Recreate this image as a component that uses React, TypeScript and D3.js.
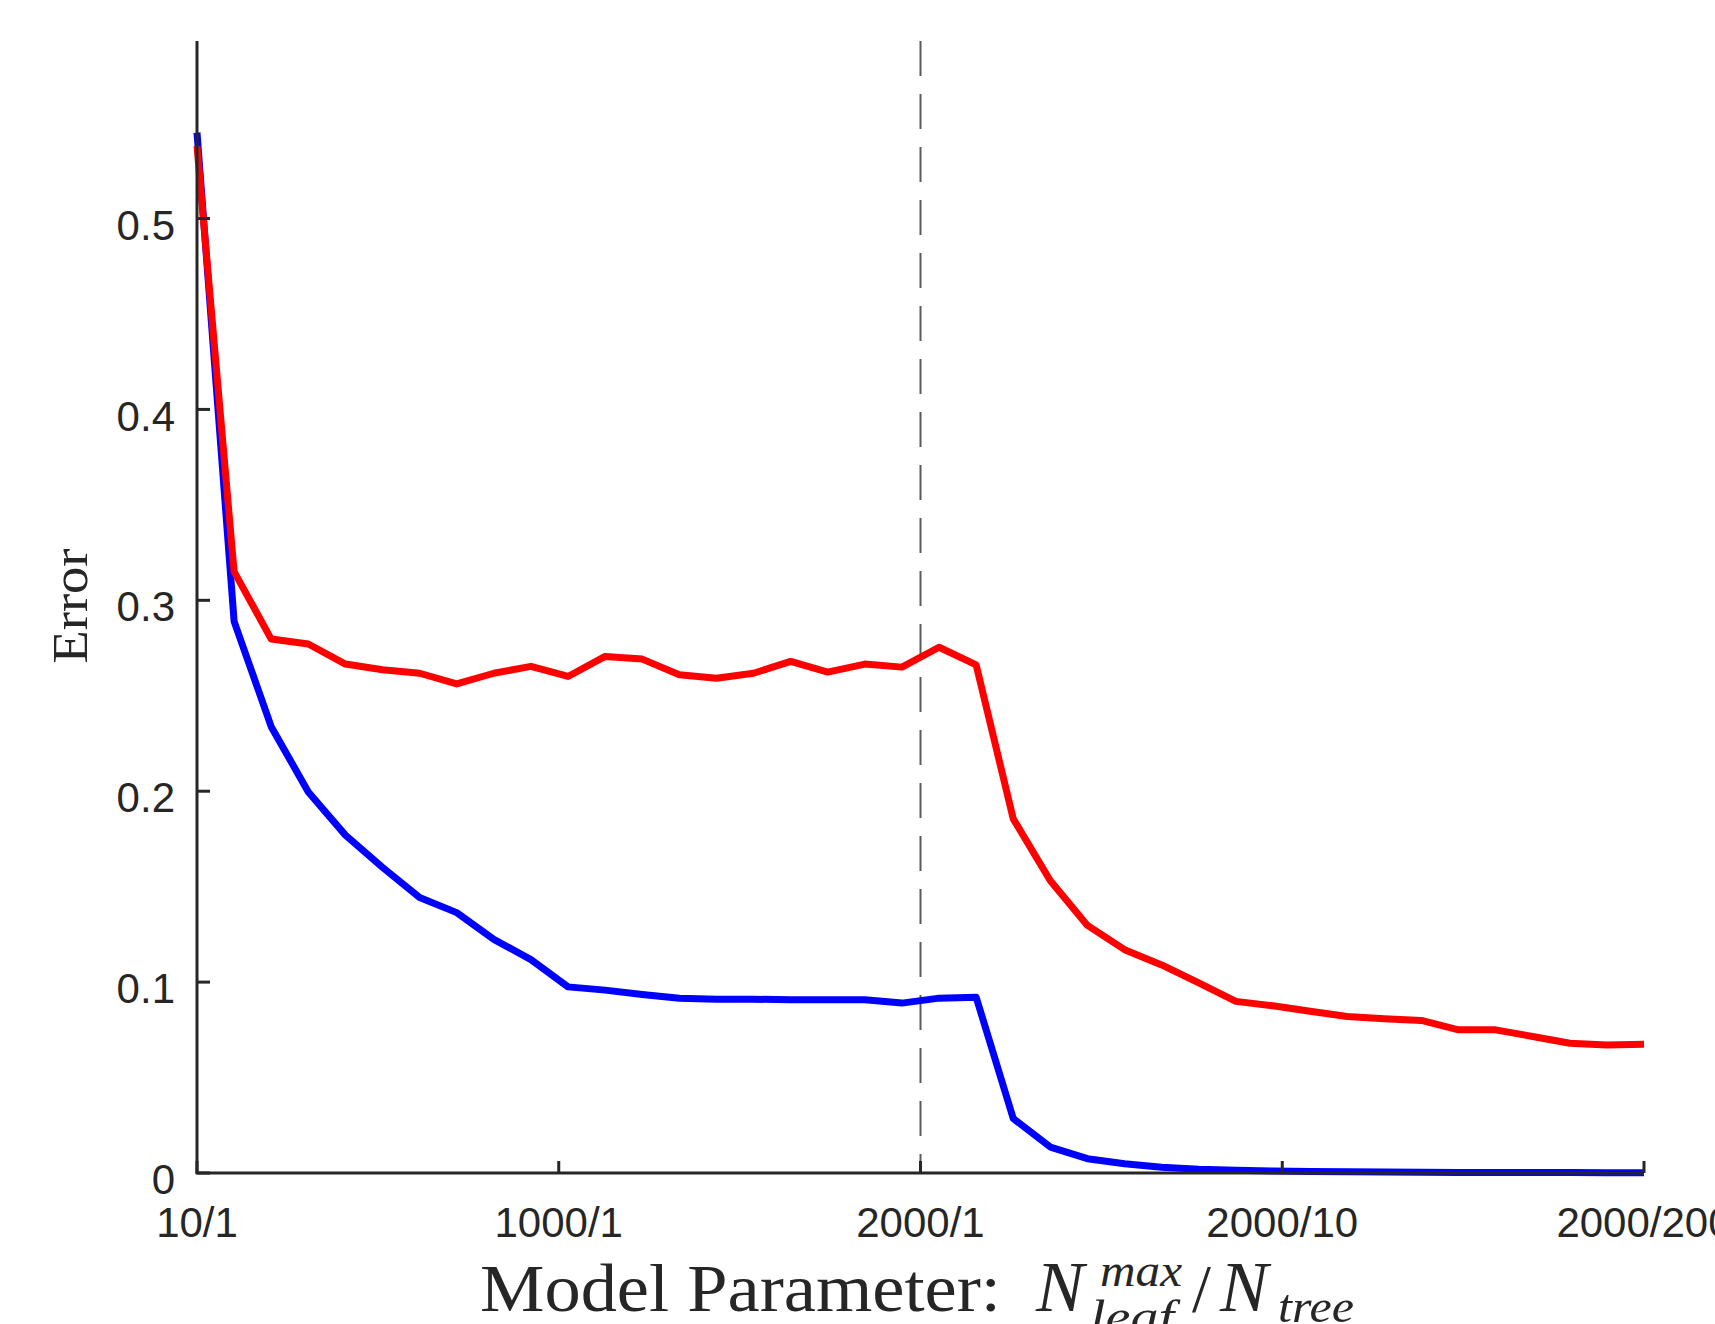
import React from "react";
import * as d3 from "d3";

// x positions are sample indices (0..39); labels sit at quarter points of the range
const xTickPos = [0, 9.75, 19.5, 29.25, 39];
const xTickLabels = ["10/1", "1000/1", "2000/1", "2000/10", "2000/200"];
const yTicks = [0, 0.1, 0.2, 0.3, 0.4, 0.5];
const yTickLabels = ["0", "0.1", "0.2", "0.3", "0.4", "0.5"];
const dividerAt = 19.5;

// red curve
const testError = [
  0.538, 0.315, 0.2797, 0.2771, 0.2666, 0.2636, 0.2618, 0.2562, 0.2618, 0.2654,
  0.2601, 0.2706, 0.2692, 0.261, 0.2592, 0.2618, 0.268, 0.2624, 0.2666, 0.265,
  0.2754, 0.2662, 0.1855, 0.1531, 0.1297, 0.117, 0.109, 0.0996, 0.0899, 0.0876,
  0.0847, 0.082, 0.0808, 0.0799, 0.075, 0.075, 0.0715, 0.068, 0.0671, 0.0675,
];
// blue curve
const trainError = [
  0.545, 0.289, 0.2338, 0.1996, 0.177, 0.1601, 0.1443, 0.1364, 0.1224, 0.1118,
  0.0975, 0.0958, 0.0935, 0.0915, 0.091, 0.091, 0.0908, 0.0908, 0.0908, 0.089,
  0.0916, 0.0921, 0.0285, 0.0136, 0.0075, 0.0048, 0.003, 0.002, 0.0015, 0.001,
  0.0008, 0.0006, 0.0005, 0.0004, 0.0003, 0.0003, 0.0002, 0.0002, 0.0001, 0.0001,
];

export default function App() {
  const width = 1715;
  const height = 1324;
  const x = d3.scaleLinear().domain([0, trainError.length - 1]).range([197, 1644]);
  const y = d3.scaleLinear().domain([0, 0.593]).range([1173, 41]);
  const line = d3
    .line<number>()
    .x((_, i) => x(i))
    .y((d) => y(d));

  const axisColor = "#262626";
  const tickFont = "'Liberation Sans', Arial, sans-serif";
  const serif = "'Liberation Serif', 'Times New Roman', serif";

  return (
    <svg
      width={width}
      height={height}
      style={{ position: "absolute", left: 0, top: 0, background: "#fff" }}
    >
      {/* dashed divider */}
      <line
        x1={x(dividerAt)}
        x2={x(dividerAt)}
        y1={y.range()[1]}
        y2={y(0)}
        stroke="#5a5a5a"
        strokeWidth={2}
        strokeDasharray="35 18"
      />

      <path d={line(trainError) || ""} fill="none" stroke="#0000ff" strokeWidth={7} strokeLinejoin="round" />
      <path d={line(testError) || ""} fill="none" stroke="#ff0000" strokeWidth={7} strokeLinejoin="round" />

      {/* axes */}
      <line x1={x(0)} x2={x(0)} y1={y.range()[1]} y2={y(0)} stroke={axisColor} strokeWidth={3} />
      <line x1={x(0) - 1.5} x2={x.range()[1]} y1={y(0)} y2={y(0)} stroke={axisColor} strokeWidth={3} />

      {yTicks.map((t, i) => (
        <g key={"y" + i}>
          <line x1={x(0)} x2={x(0) + 13} y1={y(t)} y2={y(t)} stroke={axisColor} strokeWidth={3} />
          <text
            x={x(0) - 22}
            y={y(t) + 6}
            dy="0.36em"
            textAnchor="end"
            fontFamily={tickFont}
            fontSize={42}
            fill={axisColor}
          >
            {yTickLabels[i]}
          </text>
        </g>
      ))}

      {xTickPos.map((t, i) => (
        <g key={"x" + i}>
          <line x1={x(t)} x2={x(t)} y1={y(0)} y2={y(0) - 12} stroke={axisColor} strokeWidth={3} />
          <text
            x={x(t)}
            y={1237}
            textAnchor="middle"
            fontFamily={tickFont}
            fontSize={42}
            fill={axisColor}
          >
            {xTickLabels[i]}
          </text>
        </g>
      ))}

      {/* y label */}
      <text
        transform="translate(87,606) rotate(-90)"
        textAnchor="middle"
        fontFamily={serif}
        fontSize={50}
        fill={axisColor}
        textLength={115}
        lengthAdjust="spacingAndGlyphs"
      >
        Error
      </text>

      {/* x label */}
      <g fontFamily={serif} fill={axisColor}>
        <text x={480} y={1311} fontSize={68} textLength={521} lengthAdjust="spacingAndGlyphs">
          Model Parameter:
        </text>
        <text x={1036} y={1311} fontSize={72} fontStyle="italic">N</text>
        <text x={1100} y={1286} fontSize={46} fontStyle="italic" textLength={82} lengthAdjust="spacingAndGlyphs">max</text>
        <text x={1090} y={1332} fontSize={46} fontStyle="italic" textLength={84} lengthAdjust="spacingAndGlyphs">leaf</text>
        <text x={1192} y={1311} fontSize={68}>/</text>
        <text x={1220} y={1311} fontSize={72} fontStyle="italic">N</text>
        <text x={1278} y={1322} fontSize={46} fontStyle="italic" textLength={76} lengthAdjust="spacingAndGlyphs">tree</text>
      </g>
    </svg>
  );
}
